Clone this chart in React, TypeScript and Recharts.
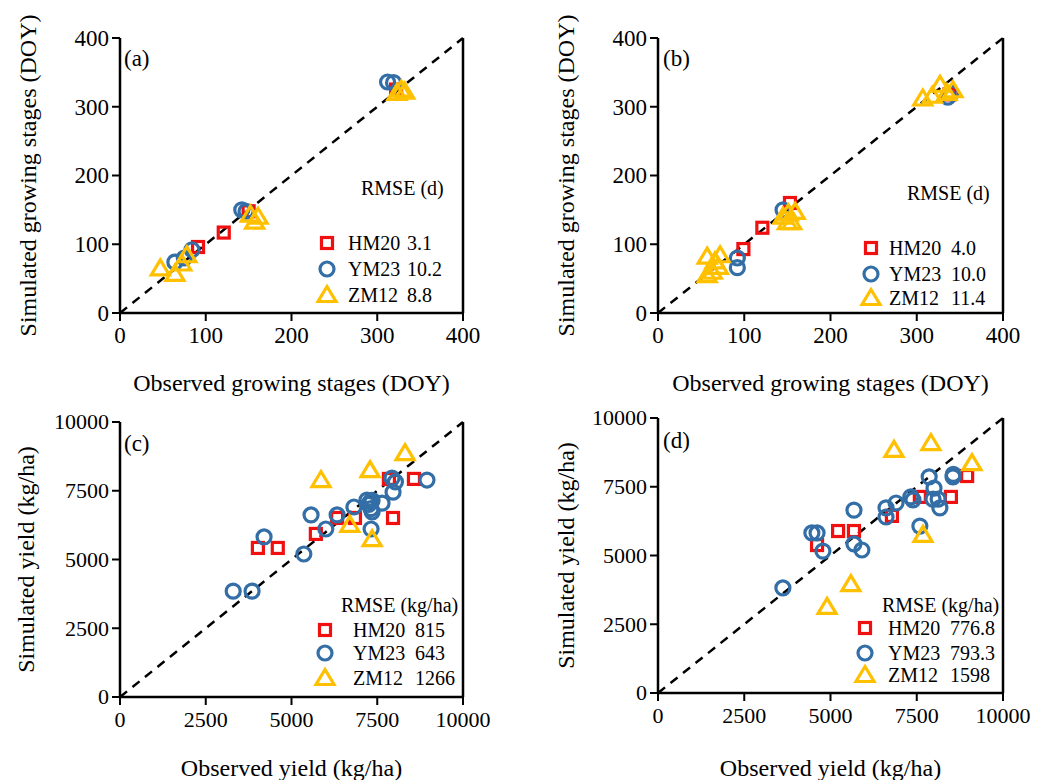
import React from "react";
import {
  ScatterChart,
  Scatter,
  XAxis,
  YAxis,
  ReferenceLine,
  Customized,
} from "recharts";

// ---------- data ----------
const SERIES_NAMES = ["HM20", "YM23", "ZM12"];
const STAGE_TICKS = [0, 100, 200, 300, 400];
const YIELD_TICKS = [0, 2500, 5000, 7500, 10000];

const A_HM20 = [[91, 96], [121, 117], [150, 148], [322, 325]];
const A_YM23 = [[64, 74], [75, 80], [84, 92], [142, 150], [147, 148], [312, 336], [319, 335]];
const A_ZM12 = [[47, 65], [64, 57], [72, 72], [78, 84], [152, 143], [157, 133], [161, 140], [323, 320], [328, 325], [332, 322]];
const A_RMSE = ["3.1", "10.2", "8.8"];

const B_HM20 = [[99, 93], [121, 124], [153, 160], [338, 318]];
const B_YM23 = [[92, 80], [92, 66], [145, 150], [336, 314], [340, 320]];
const B_ZM12 = [[57, 82], [72, 84], [57, 55], [63, 60], [70, 67], [66, 75], [151, 145], [145, 140], [159, 147], [155, 132], [150, 132], [307, 312], [318, 316], [327, 332], [342, 324], [335, 320]];
const B_RMSE = ["4.0", "10.0", "11.4"];

const C_HM20 = [[4020, 5420], [4600, 5420], [5710, 5930], [6330, 6510], [6850, 6510], [7840, 7930], [7960, 6510], [8570, 7930]];
const C_YM23 = [[3300, 3850], [3850, 3850], [4200, 5820], [5360, 5200], [5570, 6620], [6000, 6110], [6330, 6620], [6820, 6910], [7200, 7160], [7300, 7100], [7350, 7150], [7250, 7000], [7320, 6850], [7640, 7050], [7350, 6730], [7320, 6110], [7930, 7960], [8030, 7820], [7960, 7450], [8950, 7890]];
const C_ZM12 = [[5860, 7890], [6700, 6260], [7290, 8250], [7350, 5740], [8310, 8870]];
const C_RMSE = ["815", "643", "1266"];

const D_HM20 = [[4610, 5380], [5220, 5890], [5680, 5890], [6780, 6440], [7590, 7130], [8490, 7130], [8960, 7890]];
const D_YM23 = [[3620, 3820], [4460, 5820], [4610, 5820], [4780, 5160], [5680, 6650], [5680, 5420], [5910, 5200], [6610, 6730], [6610, 6400], [6900, 6910], [7330, 7130], [7390, 7020], [7590, 6070], [7860, 7860], [8000, 7450], [7970, 7050], [8120, 7050], [8170, 6730], [8550, 7860], [8560, 7950]];
const D_ZM12 = [[4900, 3130], [5590, 3960], [6840, 8840], [7910, 9090], [7680, 5750], [9100, 8360]];
const D_RMSE = ["776.8", "793.3", "1598"];

// ---------- styles ----------
const FONT = "Liberation Serif";
const RED = "#F01010";
const BLUE = "#336EA6";
const YELLOW = "#FFC000";

const toPts = (arr: number[][]) => arr.map(([x, y]) => ({ x, y }));

const Square = (props: any) => {
  const { cx, cy } = props;
  if (cx == null || cy == null) return null;
  return <rect x={cx - 5.5} y={cy - 5.5} width={11} height={11} fill="none" stroke={RED} strokeWidth={3.2} />;
};
const Circle = (props: any) => {
  const { cx, cy } = props;
  if (cx == null || cy == null) return null;
  return <circle cx={cx} cy={cy} r={7} fill="none" stroke={BLUE} strokeWidth={3.2} />;
};
const Triangle = (props: any) => {
  const { cx, cy } = props;
  if (cx == null || cy == null) return null;
  return (
    <polygon
      points={`${cx},${cy - 8.5} ${cx + 9},${cy + 6.5} ${cx - 9},${cy + 6.5}`}
      fill="none"
      stroke={YELLOW}
      strokeWidth={3.2}
      strokeLinejoin="miter"
    />
  );
};
const SHAPES = [Square, Circle, Triangle];

const makeXTick = (fs: number) => (props: any) => {
  const { x, y, payload } = props;
  return (
    <text x={x} y={y} dy={fs * 0.75} textAnchor="middle" fontFamily={FONT} fontSize={fs} fill="#000">
      {payload.value}
    </text>
  );
};
const makeYTick = (fs: number) => (props: any) => {
  const { x, y, payload } = props;
  return (
    <text x={x} y={y} dy={fs * 0.34} textAnchor="end" fontFamily={FONT} fontSize={fs} fill="#000">
      {payload.value}
    </text>
  );
};

type LegendCfg = {
  titleX: number;
  titleY: number;
  rows: number[];
  markerX: number;
  nameX: number;
  valueX: number;
  title: string;
  values: string[];
};

type PanelProps = {
  left: number;
  top: number;
  width: number;
  height: number;
  marginTop: number;
  marginRight: number;
  yAxisWidth: number;
  xAxisHeight: number;
  max: number;
  ticks: number[];
  tickFont: number;
  xLabel: string;
  yLabel: string;
  yLabelOffset: number;
  xLabelOffset: number;
  panelLabel: string;
  panelLabelPos: [number, number];
  series: number[][][];
  legend: LegendCfg;
};

const Panel = (p: PanelProps) => {
  const lg = p.legend;
  return (
    <div style={{ position: "absolute", left: p.left, top: p.top }}>
      <ScatterChart
        width={p.width}
        height={p.height}
        margin={{ top: p.marginTop, right: p.marginRight, left: 0, bottom: 0 }}
      >
        <XAxis
          type="number"
          dataKey="x"
          domain={[0, p.max]}
          ticks={p.ticks}
          interval={0}
          height={p.xAxisHeight}
          tickSize={8}
          tickMargin={5}
          axisLine={{ stroke: "#000", strokeWidth: 2.5 }}
          tickLine={{ stroke: "#000", strokeWidth: 2 }}
          tick={makeXTick(p.tickFont)}
          allowDataOverflow
          label={{
            value: p.xLabel,
            position: "insideBottom",
            offset: p.xLabelOffset,
            style: { fill: "#000", fontSize: 24, fontFamily: FONT },
          }}
        />
        <YAxis
          type="number"
          dataKey="y"
          domain={[0, p.max]}
          ticks={p.ticks}
          interval={0}
          width={p.yAxisWidth}
          tickSize={8}
          tickMargin={3}
          axisLine={{ stroke: "#000", strokeWidth: 2.5 }}
          tickLine={{ stroke: "#000", strokeWidth: 2 }}
          tick={makeYTick(p.tickFont)}
          allowDataOverflow
          label={{
            value: p.yLabel,
            angle: -90,
            position: "insideLeft",
            offset: p.yLabelOffset,
            style: { fill: "#000", fontSize: 24, fontFamily: FONT, textAnchor: "middle" },
          }}
        />
        <ReferenceLine x={p.max} stroke="#000" strokeWidth={2.5} ifOverflow="visible" />
        <ReferenceLine
          segment={[{ x: 0, y: 0 }, { x: p.max, y: p.max }]}
          stroke="#000"
          strokeWidth={2.5}
          strokeDasharray="9 7"
          ifOverflow="visible"
        />
        {p.series.map((s, i) => (
          <Scatter
            key={SERIES_NAMES[i]}
            name={SERIES_NAMES[i]}
            data={toPts(s)}
            shape={SHAPES[i]}
            isAnimationActive={false}
          />
        ))}
        <Customized
          component={() => (
            <g fill="#000">
              <text
                x={p.panelLabelPos[0]}
                y={p.panelLabelPos[1]}
                fontSize={23}
                fontFamily={FONT}
                dominantBaseline="central"
              >
                {p.panelLabel}
              </text>
              <text x={lg.titleX} y={lg.titleY} fontSize={20} fontFamily={FONT} dominantBaseline="central">
                {lg.title}
              </text>
              {lg.rows.map((ry, i) => {
                const Shape = SHAPES[i];
                return (
                  <g key={i}>
                    <Shape cx={lg.markerX} cy={ry} />
                    <text x={lg.nameX} y={ry} fontSize={20} fontFamily={FONT} dominantBaseline="central">
                      {SERIES_NAMES[i]}
                    </text>
                    <text x={lg.valueX} y={ry} fontSize={20} fontFamily={FONT} dominantBaseline="central">
                      {lg.values[i]}
                    </text>
                  </g>
                );
              })}
            </g>
          )}
        />
      </ScatterChart>
    </div>
  );
};

export default function App() {
  return (
    <div style={{ position: "absolute", left: 0, top: 0, width: 1037, height: 780, background: "#fff", overflow: "hidden", fontFamily: FONT }}>
      <Panel
        left={0}
        top={0}
        width={518}
        height={400}
        marginTop={38}
        marginRight={55}
        yAxisWidth={120}
        xAxisHeight={87}
        max={400}
        ticks={STAGE_TICKS}
        tickFont={23}
        xLabel="Observed growing stages (DOY)"
        yLabel="Simulated growing stages (DOY)"
        yLabelOffset={27}
        xLabelOffset={9}
        panelLabel="(a)"
        panelLabelPos={[124, 58]}
        series={[A_HM20, A_YM23, A_ZM12]}
        legend={{ titleX: 361, titleY: 188, rows: [243, 269, 295], markerX: 327, nameX: 348, valueX: 407, title: "RMSE (d)", values: A_RMSE }}
      />
      <Panel
        left={518}
        top={0}
        width={519}
        height={400}
        marginTop={38}
        marginRight={34}
        yAxisWidth={140}
        xAxisHeight={87}
        max={400}
        ticks={STAGE_TICKS}
        tickFont={23}
        xLabel="Observed growing stages (DOY)"
        yLabel="Simulated growing stages (DOY)"
        yLabelOffset={47}
        xLabelOffset={9}
        panelLabel="(b)"
        panelLabelPos={[145, 58]}
        series={[B_HM20, B_YM23, B_ZM12]}
        legend={{ titleX: 389, titleY: 193, rows: [248, 274, 298], markerX: 353, nameX: 371, valueX: 433, title: "RMSE (d)", values: B_RMSE }}
      />
      <Panel
        left={0}
        top={390}
        width={518}
        height={400}
        marginTop={32}
        marginRight={55}
        yAxisWidth={120}
        xAxisHeight={93}
        max={10000}
        ticks={YIELD_TICKS}
        tickFont={22}
        xLabel="Observed yield (kg/ha)"
        yLabel="Simulated yield (kg/ha)"
        yLabelOffset={25}
        xLabelOffset={14}
        panelLabel="(c)"
        panelLabelPos={[124, 53]}
        series={[C_HM20, C_YM23, C_ZM12]}
        legend={{ titleX: 341, titleY: 215, rows: [240, 263, 288], markerX: 325, nameX: 353, valueX: 415, title: "RMSE (kg/ha)", values: C_RMSE }}
      />
      <Panel
        left={518}
        top={390}
        width={519}
        height={400}
        marginTop={28}
        marginRight={34}
        yAxisWidth={140}
        xAxisHeight={97}
        max={10000}
        ticks={YIELD_TICKS}
        tickFont={22}
        xLabel="Observed yield (kg/ha)"
        yLabel="Simulated yield (kg/ha)"
        yLabelOffset={47}
        xLabelOffset={14}
        panelLabel="(d)"
        panelLabelPos={[145, 50]}
        series={[D_HM20, D_YM23, D_ZM12]}
        legend={{ titleX: 364, titleY: 215, rows: [238, 263, 285], markerX: 347, nameX: 370, valueX: 432, title: "RMSE (kg/ha)", values: D_RMSE }}
      />
    </div>
  );
}
